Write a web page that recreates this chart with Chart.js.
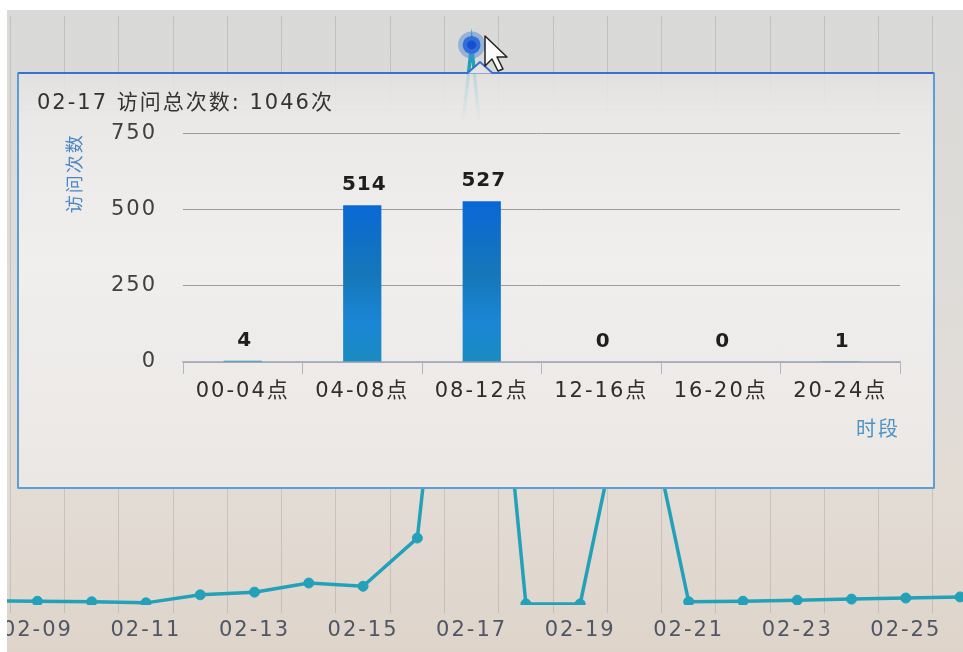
<!DOCTYPE html>
<html>
<head>
<meta charset="utf-8">
<title>02-17 访问统计</title>
<script src="https://cdn.jsdelivr.net/npm/chart.js@4.4.0/dist/chart.umd.min.js"></script>
<style>
  html, body { margin: 0; padding: 0; background: #fff; }
  body { width: 963px; height: 652px; overflow: hidden; position: relative; }
  #screen {
    position: absolute; left: 7px; top: 10px; width: 956px; height: 642px; overflow: hidden;
    background: linear-gradient(to bottom, #d9d9d7 0%, #dedcd9 40%, #e3dcd5 75%, #ded4ca 100%);
  }
  #lineChart { position: absolute; left: -57px; top: 0; }
  #popup {
    position: absolute; left: 17px; top: 72px; width: 914px; height: 413px;
    border: 2px solid #5aa0d6; border-top-color: #3a6fd0; border-radius: 2px;
    background: linear-gradient(to bottom, rgba(228,227,226,0.8) 0%, rgba(234,233,232,1) 12%, #f0efee 45%, #ebe7e4 100%);
  }
  #barChart { position: absolute; left: 0; top: 0; }
  #deco { position: absolute; left: 0; top: 0; }
</style>
</head>
<body>
<div id="screen">
  <canvas id="lineChart" width="1100" height="642"></canvas>
</div>
<div id="popup">
  <canvas id="barChart" width="914" height="413"></canvas>
</div>
<svg id="deco" width="963" height="652">
  <path d="M467,73.5 L480,62 L493,73.5" fill="#e4e3e2" stroke="#3a6fd0" stroke-width="2"/>
  <path d="M485,36 L485,66 L492,59 L498,71 L503,69 L497,57 L507,57 Z" fill="#fbfbfb" stroke="#222" stroke-width="1.5" stroke-linejoin="round"/>
</svg>
<script>
// background trend: daily visits
var days = ['02-08', '02-09', '02-10', '02-11', '02-12', '02-13', '02-14', '02-15', '02-16', '02-17',
            '02-18', '02-19', '02-20', '02-21', '02-22', '02-23', '02-24', '02-25', '02-26', '02-27'];
var dayVisits = [8, 7, 6, 4, 19, 24, 41, 35, 125, 1046, 2, 2, 484, 6, 7, 9, 11, 13, 15, 16];
var hoverDay = '02-17';

// popup: visits by time slot for the hovered day
var periods = ['00-04点', '04-08点', '08-12点', '12-16点', '16-20点', '20-24点'];
var periodVisits = [4, 514, 527, 0, 0, 1];
var yTicks = [0, 250, 500, 750];

var FONT = "'DejaVu Sans', 'Noto Sans CJK SC', sans-serif";
var hoverIndex = days.indexOf(hoverDay);
var total = periodVisits.reduce(function(a, b) { return a + b; }, 0);

function spacing(px) {
  return {
    id: 'spacing',
    beforeDraw: function(chart) { chart.ctx.letterSpacing = px; }
  };
}

var lineChart = new Chart(document.getElementById('lineChart'), {
  type: 'line',
  data: {
    labels: days,
    datasets: [{
      data: dayVisits,
      borderColor: '#23a1b9',
      borderWidth: 3.5,
      pointBackgroundColor: function(c) { return c.dataIndex === hoverIndex ? '#1450d2' : '#23a1b9'; },
      pointBorderColor: function(c) { return c.dataIndex === hoverIndex ? 'rgba(80,140,215,0.5)' : '#23a1b9'; },
      pointBorderWidth: function(c) { return c.dataIndex === hoverIndex ? 9 : 1; },
      pointRadius: function(c) { return c.dataIndex === hoverIndex ? 9 : 5; },
      tension: 0
    }]
  },
  options: {
    responsive: false,
    animation: false,
    events: [],
    layout: { padding: { top: 4, left: 0, right: 0, bottom: 0 } },
    plugins: { legend: { display: false }, tooltip: { enabled: false } },
    scales: {
      y: { display: false, min: 0, max: 1100 },
      x: {
        offset: true,
        grid: { offset: true, color: 'rgba(140,140,140,0.3)', tickLength: 8 },
        border: { display: false },
        ticks: {
          autoSkip: false, maxRotation: 0, padding: 5,
          color: '#4f5664',
          font: { family: FONT, size: 21 },
          callback: function(v, i) { return i % 2 === 1 ? days[i] : ''; }
        },
        afterFit: function(scale) { scale.height = 47; }
      }
    }
  },
  plugins: [spacing('2px')]
});

var valueLabels = {
  id: 'valueLabels',
  afterDatasetsDraw: function(chart) {
    var ctx = chart.ctx;
    var meta = chart.getDatasetMeta(0);
    ctx.save();
    ctx.letterSpacing = '1px';
    ctx.font = 'bold 20px ' + FONT;
    ctx.fillStyle = '#1e1e1e';
    ctx.textAlign = 'center';
    ctx.textBaseline = 'middle';
    meta.data.forEach(function(bar, i) {
      ctx.fillText(periodVisits[i], bar.x + 2, bar.y - 20);
    });
    ctx.restore();
  }
};

var barChart = new Chart(document.getElementById('barChart'), {
  type: 'bar',
  data: {
    labels: periods,
    datasets: [{
      label: '访问次数',
      data: periodVisits,
      barPercentage: 0.32,
      categoryPercentage: 1,
      backgroundColor: function(c) {
        var area = c.chart.chartArea;
        if (!area) return '#1577c0';
        var g = c.chart.ctx.createLinearGradient(0, area.top + 70, 0, area.bottom);
        g.addColorStop(0, '#0a68d6');
        g.addColorStop(0.45, '#1577b8');
        g.addColorStop(0.75, '#1a86d6');
        g.addColorStop(1, '#1a8bc0');
        return g;
      }
    }]
  },
  options: {
    responsive: false,
    animation: false,
    events: [],
    layout: { padding: { left: 18, right: 33, top: 0, bottom: 35 } },
    plugins: {
      legend: { display: false },
      tooltip: { enabled: false },
      title: {
        display: true,
        align: 'start',
        text: hoverDay + ' 访问总次数: ' + total + '次',
        color: '#333',
        font: { family: FONT, size: 21, weight: 'normal' },
        padding: { top: 17, bottom: 17 }
      }
    },
    scales: {
      y: {
        min: 0, max: 750,
        afterBuildTicks: function(scale) {
          scale.ticks = yTicks.map(function(v) { return { value: v }; });
        },
        grid: { color: '#9c9c9c', lineWidth: 1, drawTicks: false },
        border: { display: false },
        ticks: { padding: 26, color: '#404040', font: { family: FONT, size: 21 } },
        title: {
          display: true, text: '访问次数', align: 'end',
          color: '#4d86c4', font: { family: FONT, size: 18 },
          padding: { top: 29, bottom: 0 }
        },
        afterFit: function(scale) { scale.width = 146; }
      },
      x: {
        offset: true,
        grid: { offset: true, drawOnChartArea: false, drawTicks: true, tickLength: 12, color: '#aeb6c6' },
        border: { display: true, color: '#aeb6c6', width: 1.5 },
        ticks: { padding: 5, color: '#2e2e2e', font: { family: FONT, size: 21 }, maxRotation: 0, autoSkip: false },
        title: {
          display: true, text: '时段', align: 'end',
          color: '#4f93c4', font: { family: FONT, size: 20 },
          padding: { top: 4, bottom: 9 }
        },
        afterFit: function(scale) { scale.height = 90; }
      }
    }
  },
  plugins: [spacing('2px'), valueLabels]
});
</script>
</body>
</html>
